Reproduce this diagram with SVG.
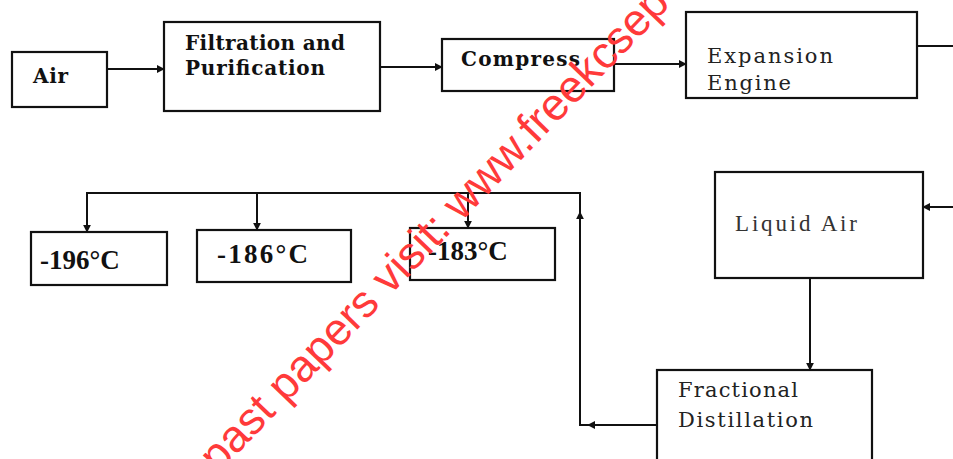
<svg xmlns="http://www.w3.org/2000/svg" width="953" height="459" viewBox="0 0 953 459">
<style>
.box{fill:#fff;stroke:#111;stroke-width:2.2}
.bold{font-family:"DejaVu Serif","Liberation Serif",serif;font-weight:bold;font-size:20px;fill:#111}
.reg{font-family:"DejaVu Serif","Liberation Serif",serif;font-size:21px;fill:#222}
.temp{font-family:"Liberation Serif",serif;font-size:27px;fill:#111;font-weight:bold}
.light{font-family:"Liberation Serif",serif;font-size:23px;fill:#333}
.ln{fill:none;stroke:#111;stroke-width:2}
.wm{font-family:"Liberation Sans",Arial,sans-serif;font-size:45px;fill:#ff3a3a}
</style>
<defs>
<marker id="ah" viewBox="0 0 10 10" refX="9" refY="5" markerWidth="8" markerHeight="8" markerUnits="userSpaceOnUse" orient="auto">
<path d="M0,0 L10,5 L0,10 z" fill="#111"/>
</marker>
</defs>
<rect width="953" height="459" fill="#fff"/>

<g id="air"><rect class="box" x="12" y="52" width="95" height="55"/><text class="bold" x="33" y="83" textLength="35">Air</text></g>
<g id="filtration"><rect class="box" x="164" y="22" width="216" height="89"/><text class="bold" x="185" y="50" textLength="160">Filtration and</text><text class="bold" x="185" y="75" textLength="140">Purification</text></g>
<g id="compress"><rect class="box" x="442" y="39" width="172" height="52"/><text class="bold" x="461" y="66" textLength="119">Compress</text></g>
<g id="expansion"><rect class="box" x="686" y="12" width="231" height="86"/><text class="reg" x="707" y="63" textLength="126">Expansion</text><text class="reg" x="707" y="90" textLength="84">Engine</text></g>
<g id="liquid-air"><rect class="box" x="715" y="172" width="208" height="106"/><text class="light" x="735" y="231" textLength="122">Liquid Air</text></g>
<g id="fractional"><rect class="box" x="657" y="370" width="215" height="95"/><text class="reg" x="678" y="397" textLength="120">Fractional</text><text class="reg" x="678" y="427" textLength="135">Distillation</text></g>
<g id="t196"><rect class="box" x="31" y="232" width="136" height="53"/><text class="temp" x="40" y="269">-196°C</text></g>
<g id="t186"><rect class="box" x="197" y="230" width="154" height="52"/><text class="temp" x="217" y="263" textLength="91">-186°C</text></g>
<g id="t183"><rect class="box" x="410" y="228" width="145" height="52"/><text class="temp" x="428" y="260">-183°C</text></g>

<g id="connectors">
<path class="ln" d="M107,69 H164" marker-end="url(#ah)"/>
<path class="ln" d="M380,67 H442" marker-end="url(#ah)"/>
<path class="ln" d="M614,64 H686" marker-end="url(#ah)"/>
<path class="ln" d="M917,46 H953"/>
<path class="ln" d="M953,207 H923" marker-end="url(#ah)"/>
<path class="ln" d="M810,278 V370" marker-end="url(#ah)"/>
<path class="ln" d="M657,425 H588" marker-end="url(#ah)"/>
<path class="ln" d="M590,425 H580 V212" marker-end="url(#ah)"/>
<path class="ln" d="M580,214 V193 H87 V232" marker-end="url(#ah)"/>
<path class="ln" d="M257,193 V230" marker-end="url(#ah)"/>
<path class="ln" d="M468,193 V228" marker-end="url(#ah)"/>
</g>

<text class="wm" transform="translate(218,474) rotate(-46)">past papers visit: www.freekcsep</text>
</svg>
